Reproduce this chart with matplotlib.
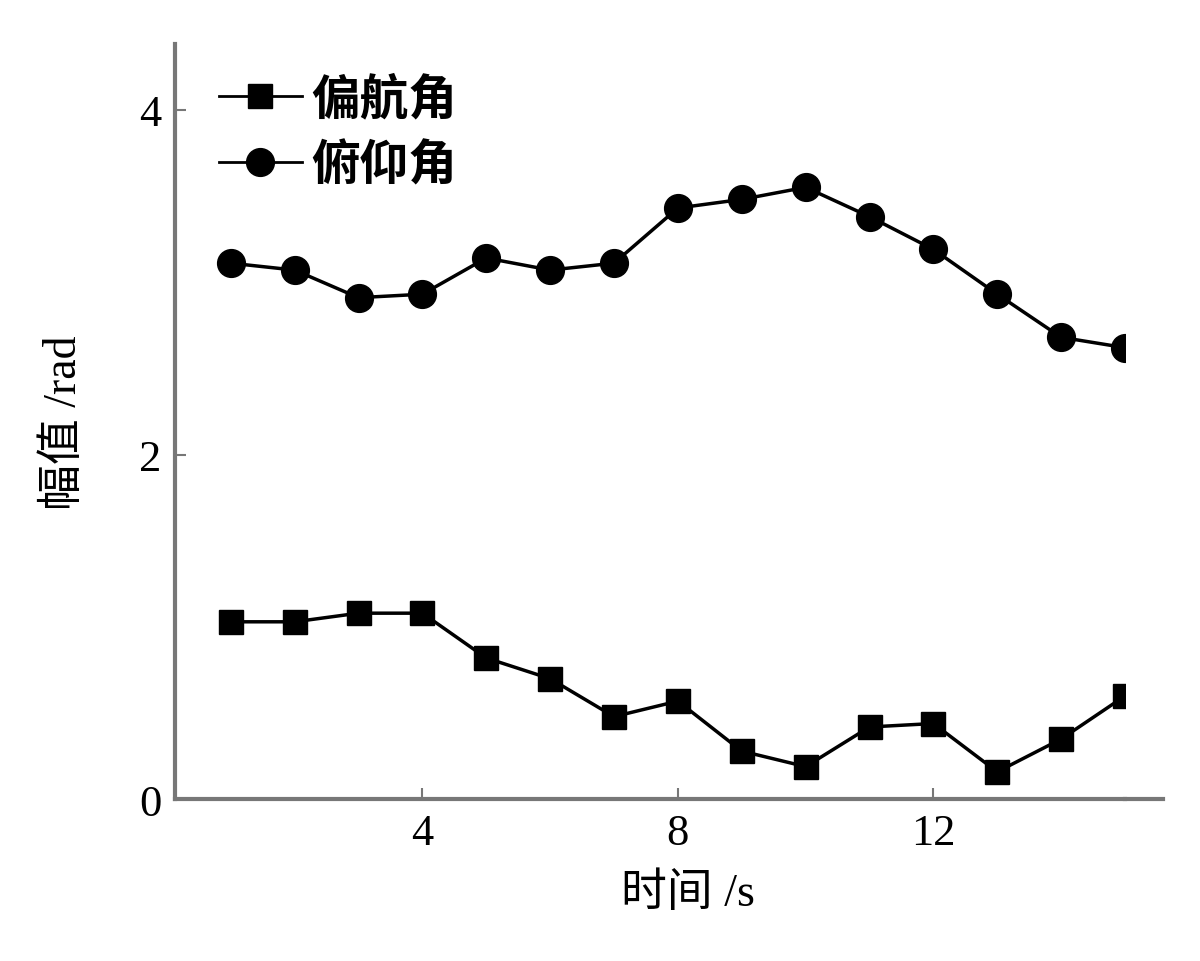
import numpy as np
import matplotlib
matplotlib.use("Agg")
from matplotlib import pyplot as plt

plt.rcParams['font.family'] = ['Liberation Serif', 'Noto Sans CJK SC']

t = [1, 2, 3, 4, 5, 6, 7, 8, 9, 10, 11, 12, 13, 14, 15]
yaw = [1.03, 1.03, 1.08, 1.08, 0.82, 0.70, 0.48, 0.57, 0.28, 0.19, 0.42, 0.44, 0.16, 0.35, 0.60]
pitch = [3.11, 3.07, 2.91, 2.93, 3.14, 3.07, 3.11, 3.43, 3.48, 3.55, 3.38, 3.19, 2.93, 2.68, 2.62]
xticks = [4, 8, 12]
yticks = [0, 2, 4]

fig = plt.figure(figsize=(12, 9.62), dpi=100)
ax = fig.add_axes([0.146, 0.168, 0.7915, 0.785])

ax.plot(t, yaw, color='black', lw=2.5, marker='s', ms=17, label='偏航角')
ax.plot(t, pitch, color='black', lw=2.5, marker='o', ms=20, label='俯仰角')

ax.set_xlim(0.13, 15)
ax.set_ylim(0, 4.38)
ax.set_xticks(xticks)
ax.set_yticks(yticks)
ax.tick_params(direction='in', length=8, width=1.5, color='#777777', labelsize=32, pad=10)

for s in ['top', 'right']:
    ax.spines[s].set_visible(False)
for s in ['left', 'bottom']:
    ax.spines[s].set_color('#777777')
    ax.spines[s].set_linewidth(3)

# x axis line continues a bit past the last point
ax.plot([1, 1.04], [0, 0], transform=ax.transAxes, color='#777777', lw=3, clip_on=False)

ax.set_xlabel('时间 /s', fontsize=33, labelpad=14)
ax.xaxis.label.set_x(0.54)
ax.set_ylabel('幅值 /rad', fontsize=33, labelpad=38)

leg = ax.legend(loc='upper left', bbox_to_anchor=(0.0, 1.015), frameon=False,
                prop={'size': 35, 'weight': 'bold'},
                handlelength=1.7, handletextpad=0.2, labelspacing=0.4)
for line in leg.get_lines():
    line.set_linewidth(2)

plt.savefig('out.png', dpi=100)
